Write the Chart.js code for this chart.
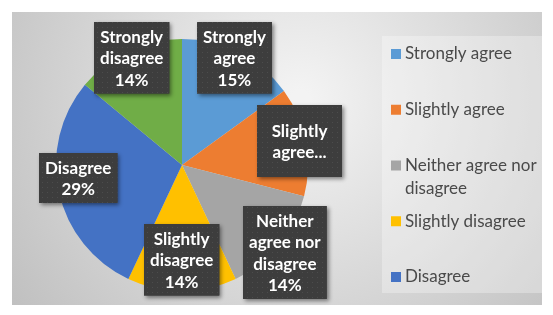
<!DOCTYPE html>
<html><head><meta charset="utf-8">
<script src="https://cdn.jsdelivr.net/npm/chart.js@4"></script>
<style>html,body{margin:0;padding:0;background:#fff;overflow:hidden}
#wrap{position:relative;width:553px;height:315px}</style>
</head><body><div id="wrap"><canvas id="c" width="553" height="315"></canvas></div>
<script>
// ---- data ----
const categories = ['Strongly agree', 'Slightly agree', 'Neither agree nor disagree', 'Slightly disagree', 'Disagree', 'Strongly disagree'];
const percentages = [15, 14, 14, 14, 29, 14];
const sliceColors = ['#5B9BD5', '#ED7D31', '#A5A5A5', '#FFC000', '#4472C4', '#70AD47'];
const legendShownCount = 5; // the last legend entry is clipped off in the original

// ---- label layout (styling, not data) ----
const labelRadiusFactor = [0.95, 0.955, 1.07, 0.754, 0.83, 0.944];
const labelAngleShiftDeg = [-1, -0.7, 1, 0, 5.5, 0];
const labelMaxLines = [0, 2, 0, 0, 0, 0];
const labelMinBox = [null, [85, 72], null, null, null, null];

function makePattern(ctx) {
  const p = document.createElement('canvas');
  p.width = 5; p.height = 5;
  const g = p.getContext('2d');
  g.fillStyle = '#3d3d3d'; g.fillRect(0, 0, 5, 5);
  g.fillStyle = '#4c4c4c'; g.fillRect(2, 2, 1, 1);
  return ctx.createPattern(p, 'repeat');
}

function wrap(ctx, text, maxW) {
  const words = text.split(' ');
  const lines = [];
  let cur = '';
  for (const w of words) {
    const t = cur ? cur + ' ' + w : w;
    if (cur && ctx.measureText(t).width > maxW) { lines.push(cur); cur = w; }
    else cur = t;
  }
  if (cur) lines.push(cur);
  return lines;
}

const backgroundPlugin = {
  id: 'excelBackground',
  beforeDraw(chart) {
    const ctx = chart.ctx;
    ctx.save();
    const x0 = 12, y0 = 12, x1 = 542, y1 = 305;
    const g = ctx.createRadialGradient(300, 100, 10, 300, 100, 360);
    g.addColorStop(0, '#f3f3f3');
    g.addColorStop(1, '#bfbfbf');
    ctx.fillStyle = g;
    ctx.fillRect(x0, y0, x1 - x0, y1 - y0);
    // legend box
    const lx = 382, ly = 36, lw = 160, lh = 257;
    ctx.fillStyle = 'rgba(255,255,255,0.3)';
    ctx.fillRect(lx, ly, lw, lh);
    // legend items
    ctx.font = '17px Lato';
    ctx.textBaseline = 'middle';
    ctx.textAlign = 'left';
    const pitch = 55.75, lineH = 23;
    for (let i = 0; i < legendShownCount; i++) {
      const yy = 54 + i * pitch;
      ctx.fillStyle = sliceColors[i];
      ctx.fillRect(391, yy - 5, 10, 10);
      ctx.fillStyle = '#4a4a4a';
      const lines = wrap(ctx, chart.data.labels[i], 136);
      lines.forEach((ln, k) => ctx.fillText(ln, 405, yy + k * lineH));
    }
    ctx.restore();
  }
};

const boxLabelPlugin = {
  id: 'boxLabels',
  afterDatasetsDraw(chart) {
    const ctx = chart.ctx;
    const meta = chart.getDatasetMeta(0);
    const data = chart.data.datasets[0].data;
    const pattern = makePattern(ctx);
    ctx.save();
    ctx.font = 'bold 17px Lato';
    const lineH = 21.5;
    meta.data.forEach((arc, i) => {
      const p = arc.getProps(['x', 'y', 'startAngle', 'endAngle', 'outerRadius'], true);
      const mid = (p.startAngle + p.endAngle) / 2 + labelAngleShiftDeg[i] * Math.PI / 180;
      const r = p.outerRadius * labelRadiusFactor[i];
      const cx = p.x + Math.cos(mid) * r;
      const cy = p.y + Math.sin(mid) * r;
      let lines = wrap(ctx, chart.data.labels[i], 76);
      lines.push(data[i] + '%');
      if (labelMaxLines[i] && lines.length > labelMaxLines[i]) {
        lines = lines.slice(0, labelMaxLines[i]);
        lines[lines.length - 1] += '...';
      }
      let tw = 0;
      lines.forEach(l => tw = Math.max(tw, ctx.measureText(l).width));
      let bw = tw + 12, bh = lines.length * lineH + 7;
      if (labelMinBox[i]) { bw = Math.max(bw, labelMinBox[i][0]); bh = Math.max(bh, labelMinBox[i][1]); }
      const bx = Math.round(cx - bw / 2), by = Math.round(cy - bh / 2);
      ctx.save();
      ctx.shadowColor = 'rgba(0,0,0,0.45)';
      ctx.shadowBlur = 4;
      ctx.shadowOffsetX = 2;
      ctx.shadowOffsetY = 2;
      ctx.fillStyle = '#3d3d3d';
      ctx.fillRect(bx, by, bw, bh);
      ctx.restore();
      ctx.fillStyle = pattern;
      ctx.fillRect(bx, by, bw, bh);
      ctx.fillStyle = '#ffffff';
      ctx.textAlign = 'center';
      ctx.textBaseline = 'middle';
      const startY = by + bh / 2 - (lines.length - 1) * lineH / 2;
      lines.forEach((l, k) => ctx.fillText(l, bx + bw / 2, startY + k * lineH + 1));
    });
    ctx.restore();
  }
};

new Chart(document.getElementById('c'), {
  type: 'pie',
  data: {
    labels: categories,
    datasets: [{
      data: percentages,
      backgroundColor: sliceColors,
      borderWidth: 0
    }]
  },
  options: {
    responsive: false,
    animation: false,
    devicePixelRatio: 1,
    layout: { padding: { left: 56, right: 245, top: 39, bottom: 24 } },
    plugins: {
      legend: { display: false },
      tooltip: { enabled: false },
      title: { display: false }
    }
  },
  plugins: [backgroundPlugin, boxLabelPlugin]
});
</script>
</body></html>
